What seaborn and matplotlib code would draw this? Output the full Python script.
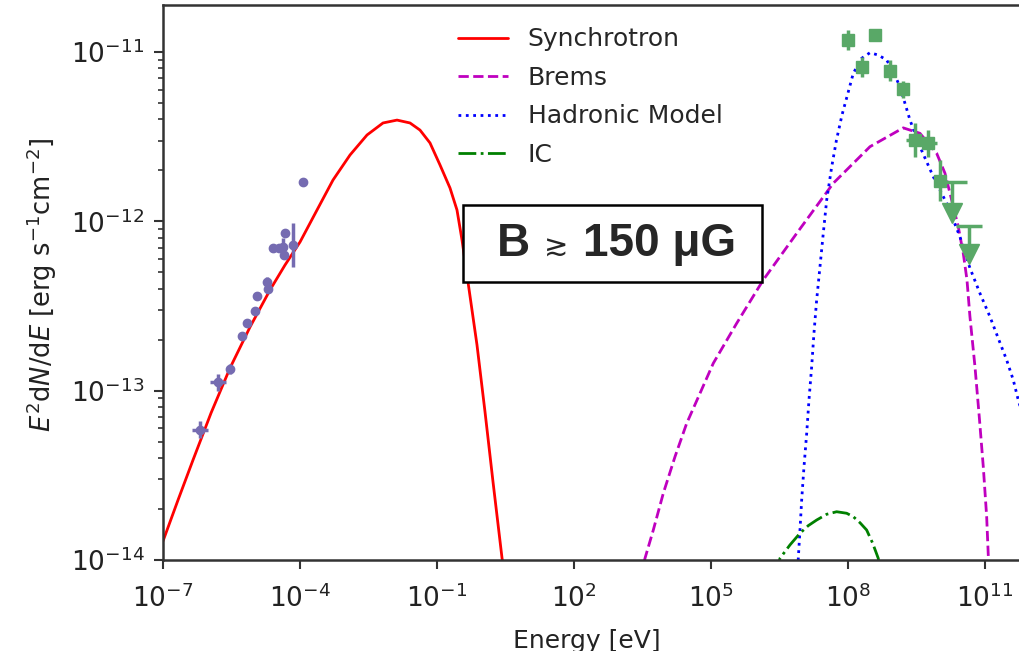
import numpy as np
import matplotlib
matplotlib.use("Agg")
import matplotlib.pyplot as plt
import seaborn as sns
from matplotlib.patches import Rectangle
from matplotlib.ticker import FixedLocator, NullLocator, LogLocator, LogFormatterSciNotation

# model curves: log10(E / eV) and log10(E^2 dN/dE)
sync_loge = [-7.0, -6.672, -6.343, -5.949, -5.533, -5.095, -4.657, -4.329, -4.0, -3.628, -3.278, -2.905,
             -2.533, -2.183, -1.876, -1.592, -1.373, -1.154, -0.935, -0.716, -0.563, -0.453, -0.322,
             -0.125, 0.051, 0.226, 0.423, 0.51]
sync_logf = [-13.888, -13.646, -13.409, -13.132, -12.866, -12.624, -12.405, -12.258, -12.122, -11.933,
             -11.756, -11.608, -11.49, -11.419, -11.402, -11.419, -11.461, -11.537, -11.667, -11.803,
             -11.933, -12.11, -12.358, -12.73, -13.126, -13.539, -13.988, -14.148]

brems_loge = [3.466, 3.554, 3.736, 3.955, 4.211, 4.467, 4.758, 5.05, 5.562, 6.144, 6.876, 7.677, 8.481,
              9.21, 9.575, 9.941, 10.123, 10.27, 10.414, 10.524, 10.605, 10.67, 10.78, 10.874, 10.962,
              11.036, 11.071, 11.097]
brems_logf = [-14.089, -13.99, -13.823, -13.606, -13.39, -13.193, -13.016, -12.838, -12.602, -12.346,
              -12.071, -11.775, -11.559, -11.448, -11.48, -11.598, -11.716, -11.874, -12.032, -12.189,
              -12.346, -12.563, -12.858, -13.154, -13.449, -13.744, -13.97, -14.118]

had_loge = [6.893, 6.911, 6.948, 6.985, 7.036, 7.095, 7.145, 7.204, 7.254, 7.313, 7.386, 7.458, 7.533,
            7.642, 7.747, 7.868, 7.999, 8.115, 8.299, 8.481, 8.662, 8.846, 8.991, 9.137, 9.247, 9.357,
            9.575, 9.722, 9.867, 10.013, 10.16, 10.305, 10.451, 10.67, 10.889, 11.108, 11.29, 11.474,
            11.619, 11.728, 12.028]
had_logf = [-14.089, -13.99, -13.823, -13.646, -13.449, -13.252, -13.055, -12.858, -12.661, -12.465,
            -12.268, -12.071, -11.874, -11.679, -11.52, -11.372, -11.242, -11.126, -11.037, -11.004,
            -11.018, -11.047, -11.116, -11.205, -11.303, -11.402, -11.559, -11.648, -11.736, -11.815,
            -11.893, -11.992, -12.091, -12.276, -12.425, -12.563, -12.691, -12.819, -12.937, -13.055,
            -13.333]

ic_loge = [6.422, 6.51, 6.729, 6.948, 7.13, 7.313, 7.533, 7.751, 7.97, 8.115, 8.262, 8.408, 8.54, 8.662, 8.722]
ic_logf = [-14.089, -13.99, -13.911, -13.842, -13.797, -13.764, -13.73, -13.715, -13.724, -13.744,
           -13.78, -13.823, -13.901, -13.99, -14.089]

# radio points
radio_loge = [-6.19, -5.80, -5.53, -5.27, -5.16, -4.99, -4.94, -4.72, -4.70, -4.59, -4.46, -4.37, -4.35, -4.33, -4.15, -3.94]
radio_logf = [-13.23, -12.95, -12.87, -12.68, -12.60, -12.53, -12.44, -12.36, -12.40, -12.16, -12.16, -12.15, -12.20, -12.07, -12.14, -11.77]
radio_dloge = [0.17, 0.17, 0, 0, 0, 0, 0, 0, 0, 0, 0, 0, 0, 0, 0, 0]
radio_dlogf = [0.05, 0.05, 0.03, 0.02, 0.02, 0.02, 0.02, 0.03, 0.02, 0.02, 0.02, 0.05, 0.02, 0.02, 0.13, 0.0]

# gamma-ray points
gam_loge = [8.00, 8.59, 8.31, 8.92, 9.20, 9.47, 9.75, 10.01]
gam_logf = [-10.93, -10.90, -11.09, -11.11, -11.22, -11.52, -11.54, -11.76]
gam_dloge = [0.10, 0.0, 0.10, 0.10, 0.08, 0.20, 0.20, 0.05]
gam_dlogf = [0.06, 0.0, 0.06, 0.06, 0.05, 0.10, 0.08, 0.12]

# upper limits
ul_loge = [10.28, 10.65]
ul_logtop = [-11.77, -12.03]
ul_logtri = [-11.95, -12.19]
ul_dloge = [0.33, 0.29]

xticks = [1e-7, 1e-4, 1e-1, 1e2, 1e5, 1e8, 1e11]
yticks = [1e-14, 1e-13, 1e-12, 1e-11]


def p(a):
    return np.power(10.0, np.asarray(a, dtype=float))


def logerr(center, d):
    c = p(center)
    d = np.asarray(d, dtype=float)
    return np.vstack([c - c * 10 ** (-d), c * 10 ** d - c])


sns.set_style("ticks")
plt.rcParams["font.family"] = ["DejaVu Sans"]

fig = plt.figure(figsize=(10.19, 6.51), dpi=100)
ax = fig.add_axes([0.16, 0.1398, 1.0025 - 0.16, 0.9926 - 0.1398])
ax.set_xscale("log")
ax.set_yscale("log")

line_kw = dict(ax=ax, lw=2, estimator=None, sort=False)
sns.lineplot(x=p(sync_loge), y=p(sync_logf), color="red", label="Synchrotron", **line_kw)
sns.lineplot(x=p(brems_loge), y=p(brems_logf), color="m", ls="--", label="Brems", **line_kw)
sns.lineplot(x=p(had_loge), y=p(had_logf), color="b", ls=":", label="Hadronic Model", **line_kw)
sns.lineplot(x=p(ic_loge), y=p(ic_logf), color="g", ls="-.", label="IC", **line_kw)

radio_col = "#756bb1"
ax.errorbar(p(radio_loge), p(radio_logf), xerr=logerr(radio_loge, radio_dloge),
            yerr=logerr(radio_logf, radio_dlogf), fmt="o", ms=6, color=radio_col,
            elinewidth=2.5, capsize=0)

gam_col = "#59a867"
ax.errorbar(p(gam_loge), p(gam_logf), xerr=logerr(gam_loge, gam_dloge),
            yerr=logerr(gam_logf, gam_dlogf), fmt="s", ms=8, color=gam_col,
            elinewidth=2.5, capsize=0)
ax.errorbar(p(ul_loge), p(ul_logtop), xerr=logerr(ul_loge, ul_dloge), fmt="none",
            color=gam_col, elinewidth=2.5, capsize=0)
tri = p(ul_logtri)
ax.errorbar(p(ul_loge), tri, yerr=[np.zeros(len(tri)), p(ul_logtop) - tri], fmt="v", ms=15,
            color=gam_col, elinewidth=2.5, capsize=0)

ax.set_xlim(1e-7, 10 ** 11.8)
ax.set_ylim(1e-14, 1.9e-11)
ax.xaxis.set_major_locator(FixedLocator(xticks))
ax.xaxis.set_major_formatter(LogFormatterSciNotation())
ax.xaxis.set_minor_locator(NullLocator())
ax.yaxis.set_major_locator(FixedLocator(yticks))
ax.yaxis.set_minor_locator(LogLocator(subs=np.arange(2, 10)))
ax.tick_params(which="major", labelsize=19, length=6.5, width=1.5, pad=7, color="#333333",
               labelcolor="#222222")
ax.tick_params(axis="x", which="major", pad=11)
ax.tick_params(which="minor", length=3.5, width=1.2, color="#333333")
for s in ax.spines.values():
    s.set_linewidth(1.8)
    s.set_color("#333333")

ax.set_xlabel("Energy [eV]", fontsize=18, color="#222222")
ax.set_ylabel(r"$E^2\mathrm{d}N/\mathrm{d}E$ [erg s$^{-1}$cm$^{-2}$]", fontsize=18.5, color="#222222")
ax.xaxis.set_label_coords(0.494, -0.124)
ax.yaxis.set_label_coords(-0.1215, 0.496)

ax.legend(loc="upper left", bbox_to_anchor=(0.317, 1.0), frameon=False, fontsize=18,
          labelspacing=0.58, handlelength=2.0, handletextpad=0.8)

# annotation box
ax.add_patch(Rectangle((0.3494, 0.5007), 0.3483, 0.1387, transform=ax.transAxes,
                       fc="white", ec="black", lw=1.8, zorder=5))
box_font = dict(transform=ax.transAxes, va="center", fontsize=33, fontweight="bold",
                family=["Liberation Sans", "DejaVu Sans"], zorder=6)
ax.text(0.389, 0.570, "B", ha="left", **box_font)
ax.text(0.4584, 0.5628, "≳", ha="center", transform=ax.transAxes, va="center", fontsize=21,
        family=["DejaVu Sans"], zorder=6)
ax.text(0.4892, 0.570, "150 μG", ha="left", **box_font)

fig.savefig("out.png", dpi=100)
